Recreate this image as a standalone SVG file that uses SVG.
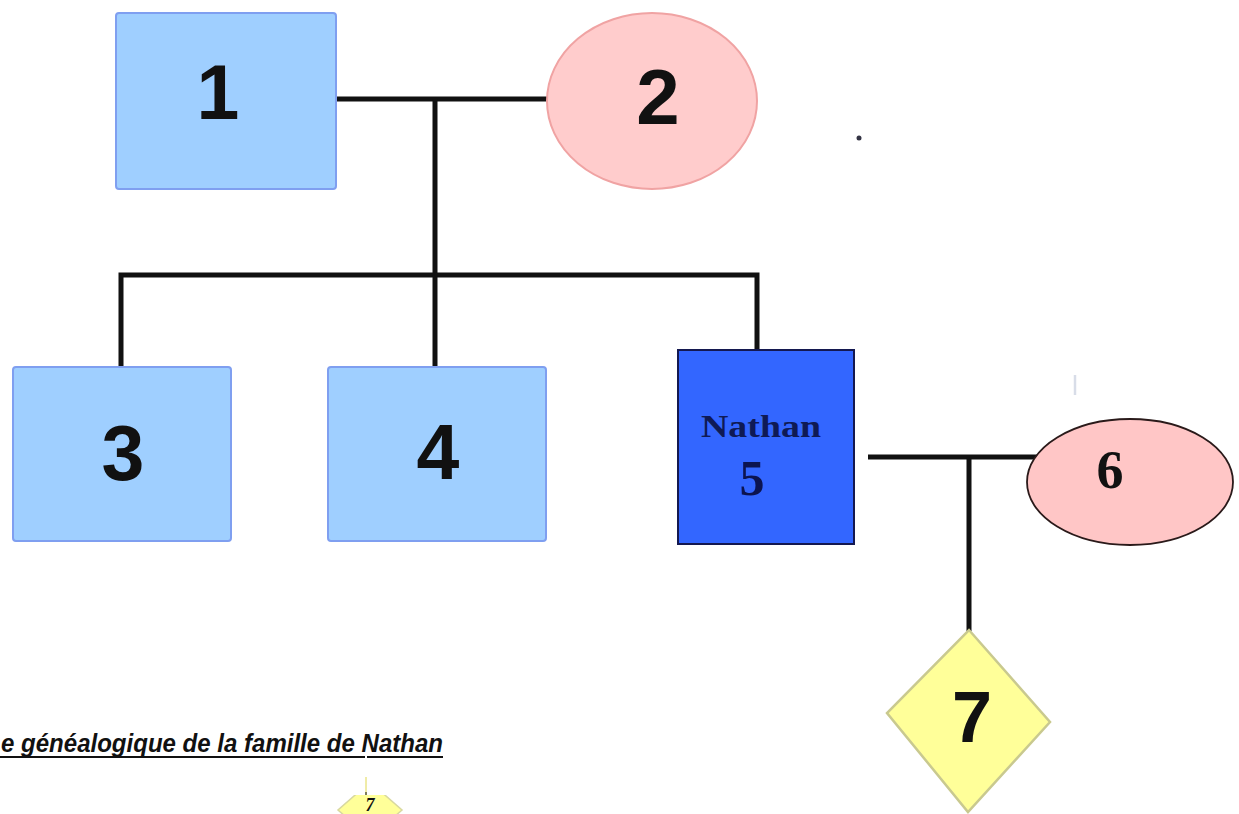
<svg xmlns="http://www.w3.org/2000/svg" width="1239" height="814" viewBox="0 0 1239 814">
<defs>
<style>
.male{fill:#9fcfff;stroke:#7f9ff0;stroke-width:2}
.fem{fill:#ffcccc;stroke:#f0a3a3;stroke-width:2}
.num{font-family:"Liberation Sans",Arial,sans-serif;font-weight:bold;fill:#111;text-anchor:middle}
.ser{font-family:"Liberation Serif","Times New Roman",serif;font-weight:bold;text-anchor:middle}
.link{stroke:#111;stroke-width:5;fill:none}
</style>
<clipPath id="bottomclip"><rect x="330" y="795" width="80" height="20"/></clipPath>
</defs>
<rect width="1239" height="814" fill="#ffffff"/>

<g id="connectors">
<line class="link" x1="336" y1="99" x2="547" y2="99"/>
<line class="link" x1="435" y1="99" x2="435" y2="275"/>
<polyline class="link" points="121,368 121,275 757,275 757,350"/>
<line class="link" x1="435" y1="275" x2="435" y2="368"/>
<line class="link" x1="868" y1="457" x2="1046" y2="457"/>
<line class="link" x1="969" y1="457" x2="969" y2="631"/>
</g>

<g id="node1">
<rect class="male" x="116" y="13" width="220" height="176" rx="3"/>
<text class="num" x="218" y="119" font-size="77">1</text>
</g>
<g id="node2">
<ellipse class="fem" cx="652" cy="101" rx="105" ry="88"/>
<text class="num" x="658" y="124" font-size="78">2</text>
</g>
<g id="node3">
<rect class="male" x="13" y="367" width="218" height="174" rx="3"/>
<text class="num" x="123" y="480" font-size="77">3</text>
</g>
<g id="node4">
<rect class="male" x="328" y="367" width="218" height="174" rx="3"/>
<text class="num" x="438" y="479" font-size="77">4</text>
</g>
<g id="node5">
<rect x="678" y="350" width="176" height="194" fill="#3366ff" stroke="#141850" stroke-width="2"/>
<text class="ser" x="761" y="437" font-size="31" fill="#0f1a55" textLength="120" lengthAdjust="spacingAndGlyphs">Nathan</text>
<text class="ser" x="752" y="495" font-size="50" fill="#0c1450">5</text>
</g>
<g id="node6">
<ellipse cx="1130" cy="482" rx="103" ry="63" fill="#ffc6c6" stroke="#2a1a1a" stroke-width="1.8"/>
<text class="ser" x="1110" y="488" font-size="54" fill="#111">6</text>
</g>
<g id="node7">
<polygon points="969,630 1050,722 968,812 887,713" fill="#ffff99" stroke="#c9c98f" stroke-width="2.5"/>
<text class="num" x="972" y="742" font-size="72">7</text>
</g>

<g id="caption">
<text x="1" y="752" font-family="'Comic Sans MS','Liberation Sans',sans-serif" font-style="italic" font-weight="bold" font-size="25" fill="#111" textLength="442" lengthAdjust="spacingAndGlyphs">e généalogique de la famille de Nathan</text>
<line x1="0" y1="757" x2="365" y2="757" stroke="#111" stroke-width="2"/>
<line x1="367" y1="757" x2="443" y2="757" stroke="#111" stroke-width="2"/>
<line x1="366" y1="777" x2="366" y2="795" stroke="#e0d850" stroke-width="1"/>
<line x1="366" y1="792" x2="366" y2="796" stroke="#111" stroke-width="1"/>
<polygon clip-path="url(#bottomclip)" points="370,782 402,810 370,838 338,810" fill="#ffff99" stroke="#d8d8a0" stroke-width="1.5"/>
<text class="ser" x="370" y="811" font-size="18" font-style="italic" fill="#111">7</text>
</g>

<circle cx="859" cy="138" r="2.5" fill="#333344"/>
<line x1="1075" y1="375" x2="1075" y2="395" stroke="#d8dde8" stroke-width="2.5"/>
</svg>
